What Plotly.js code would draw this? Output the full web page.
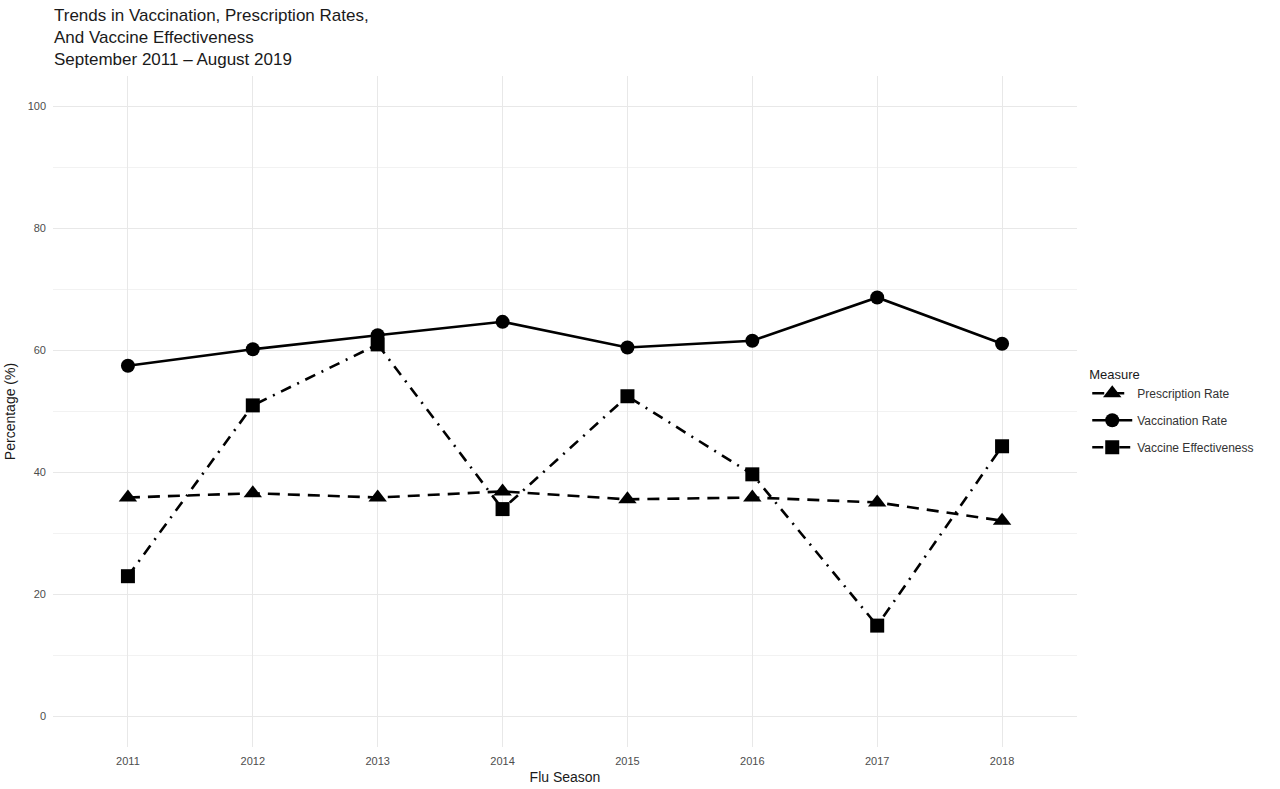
<!DOCTYPE html>
<html>
<head>
<meta charset="utf-8">
<script src="https://cdn.plot.ly/plotly-3.0.1.min.js"></script>
<style>
  html, body { margin: 0; padding: 0; background: #fff; }
  #chart { width: 1280px; height: 789px; }
</style>
</head>
<body>
<div id="chart"></div>
<script>
// Flu seasons on the x axis
const seasons = [2011, 2012, 2013, 2014, 2015, 2016, 2017, 2018];

// Values (percent)
const prescriptionRate = [35.9, 36.6, 35.9, 36.9, 35.6, 35.9, 35.1, 32.1];
const vaccinationRate = [57.5, 60.2, 62.5, 64.7, 60.5, 61.6, 68.7, 61.1];
const vaccineEffectiveness = [23, 51, 61, 34, 52.5, 39.7, 14.9, 44.3];

const yTicks = [0, 20, 40, 60, 80, 100];

const FONT = 'Liberation Sans, Arial, sans-serif';

const data = [
  {
    x: seasons,
    y: prescriptionRate,
    name: 'Prescription Rate',
    legendgroup: 'a',
    mode: 'lines+markers',
    line: { color: 'black', width: 2.6, dash: '12px,8px' },
    marker: { symbol: 'triangle-up', size: 16, color: 'black' }
  },
  {
    x: seasons,
    y: vaccinationRate,
    name: 'Vaccination Rate',
    legendgroup: 'b',
    mode: 'lines+markers',
    line: { color: 'black', width: 2.6 },
    marker: { symbol: 'circle', size: 14, color: 'black' }
  },
  {
    x: seasons,
    y: vaccineEffectiveness,
    name: 'Vaccine Effectiveness',
    legendgroup: 'c',
    mode: 'lines+markers',
    line: { color: 'black', width: 2.6, dash: '11px,7px,2px,7px' },
    marker: { symbol: 'square', size: 14, color: 'black' }
  }
];

const layout = {
  width: 1280,
  height: 789,
  paper_bgcolor: '#fff',
  plot_bgcolor: '#fff',
  margin: { l: 53, r: 203, t: 76, b: 42 },
  font: { family: FONT, color: '#1a1a1a' },
  // multi-line title drawn as an annotation so it sits left-aligned above the plot
  annotations: [{
    text: 'Trends in Vaccination, Prescription Rates,<br>And Vaccine Effectiveness<br>September 2011 \u2013 August 2019',
    font: { size: 17, color: '#1a1a1a', family: FONT },
    xref: 'paper', x: -0.001, xanchor: 'left',
    yref: 'paper', y: 1.107, yanchor: 'top',
    align: 'left',
    showarrow: false
  }],
  xaxis: {
    range: [2010.4, 2018.6],
    tickvals: seasons,
    ticktext: seasons.map(String),
    showgrid: true,
    gridcolor: '#e8e8e8',
    gridwidth: 1,
    zeroline: false,
    showline: false,
    ticks: '',
    ticklabelstandoff: 6,
    tickfont: { size: 11, color: '#4d4d4d' },
    title: { text: 'Flu Season', font: { size: 14, color: '#1a1a1a' }, standoff: 6 }
  },
  yaxis: {
    range: [-5, 105],
    tickvals: yTicks,
    showgrid: true,
    gridcolor: '#e8e8e8',
    gridwidth: 1,
    minor: { dtick: 10, tick0: 10, showgrid: true, gridcolor: '#f2f2f2', gridwidth: 1 },
    zeroline: false,
    showline: false,
    ticks: '',
    ticklabelstandoff: 6,
    tickfont: { size: 11, color: '#4d4d4d' },
    title: { text: 'Percentage (%)', font: { size: 14, color: '#1a1a1a' }, standoff: 8 }
  },
  legend: {
    x: 1.01, xanchor: 'left',
    y: 0.574, yanchor: 'top',
    title: { text: 'Measure', font: { size: 13, color: '#1a1a1a' } },
    font: { size: 12, color: '#333' },
    itemwidth: 40,
    tracegroupgap: 8,
    bgcolor: 'rgba(0,0,0,0)'
  },
  showlegend: true
};

Plotly.newPlot('chart', data, layout, { displayModeBar: false, staticPlot: true });
</script>
</body>
</html>
